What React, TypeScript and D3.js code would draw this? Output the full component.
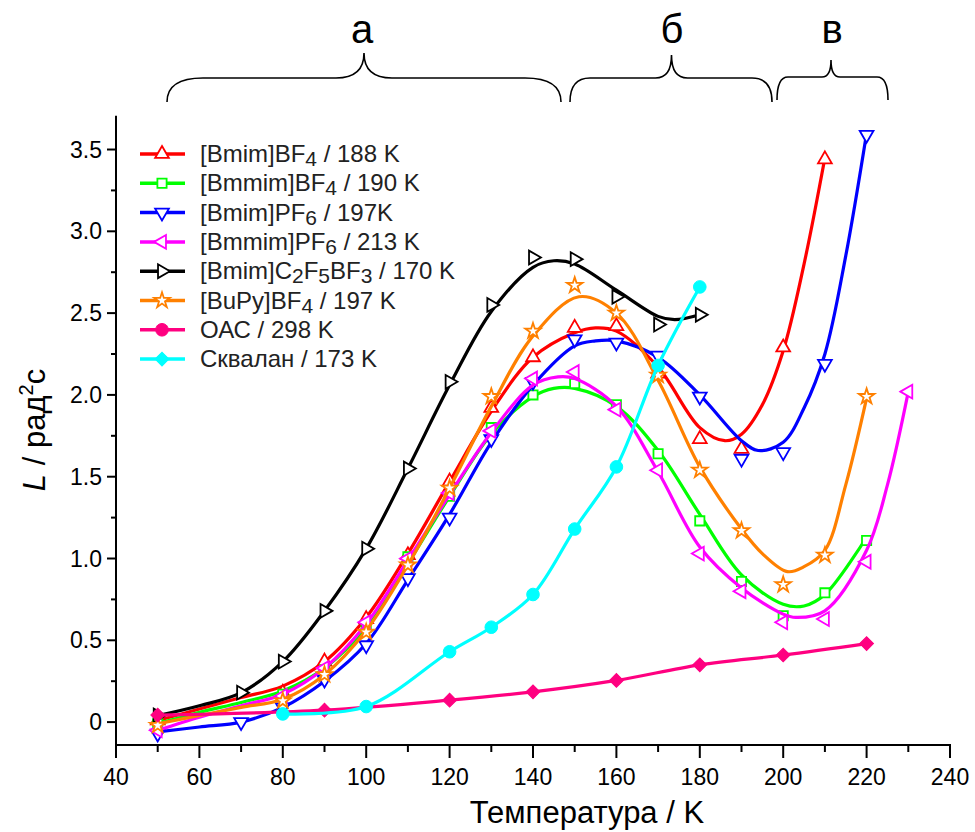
import React from 'react';
import * as d3 from 'd3';

// ---------- data ----------
const xTickValues = [40, 60, 80, 100, 120, 140, 160, 180, 200, 220, 240];
const xMinorValues = [50, 70, 90, 110, 130, 150, 170, 190, 210, 230];
const yTickValues = [0, 0.5, 1.0, 1.5, 2.0, 2.5, 3.0, 3.5];
const yTickLabels = ['0', '0.5', '1.0', '1.5', '2.0', '2.5', '3.0', '3.5'];
const yMinorValues = [0.25, 0.75, 1.25, 1.75, 2.25, 2.75, 3.25];

// [Bmim]BF4 (red)
const redT = [50, 80, 90, 100, 110, 120, 130, 140, 150, 160, 170, 180, 190, 200, 210];
const redL = [0.01, 0.18, 0.37, 0.63, 1.02, 1.47, 1.92, 2.23, 2.41, 2.42, 2.13, 1.73, 1.67, 2.29, 3.44];
const redFitT = [50, 60, 70, 80, 90, 100, 110, 120, 130, 140, 150, 155, 160, 170, 180, 186, 190, 195, 200, 205, 210];
const redFitL = [0.01, 0.08, 0.15, 0.22, 0.37, 0.64, 1.03, 1.47, 1.9, 2.23, 2.38, 2.41, 2.39, 2.17, 1.8, 1.72, 1.76, 1.94, 2.27, 2.8, 3.45];

// [Bmmim]BF4 (green)
const greenT = [50, 80, 90, 100, 110, 120, 130, 140, 150, 160, 170, 180, 190, 200, 210, 220];
const greenL = [-0.01, 0.17, 0.32, 0.58, 1.01, 1.38, 1.8, 2.0, 2.07, 1.94, 1.64, 1.23, 0.86, 0.65, 0.79, 1.11];
const greenFitT = [50, 60, 70, 80, 90, 100, 110, 120, 130, 140, 145, 150, 160, 170, 180, 190, 200, 205, 210, 220];
const greenFitL = [-0.01, 0.06, 0.12, 0.19, 0.33, 0.58, 0.97, 1.38, 1.76, 1.99, 2.04, 2.04, 1.93, 1.66, 1.27, 0.9, 0.72, 0.71, 0.78, 1.13];

// [Bmim]PF6 (blue)
const blueT = [50, 70, 80, 90, 100, 110, 120, 130, 140, 150, 160, 170, 180, 190, 200, 210, 220];
const blueL = [-0.07, 0.0, 0.09, 0.26, 0.47, 0.88, 1.25, 1.73, 2.08, 2.34, 2.32, 2.24, 1.99, 1.61, 1.65, 2.19, 3.59];
const blueFitT = [50, 60, 70, 80, 90, 100, 110, 120, 130, 140, 150, 155, 160, 170, 180, 190, 194, 200, 205, 210, 215, 220];
const blueFitL = [-0.06, -0.03, 0.0, 0.09, 0.25, 0.48, 0.87, 1.27, 1.71, 2.06, 2.3, 2.33, 2.33, 2.23, 2.0, 1.72, 1.66, 1.71, 1.92, 2.25, 2.85, 3.6];

// [Bmmim]PF6 (magenta)
const magT = [50, 80, 90, 100, 110, 120, 130, 140, 150, 160, 170, 180, 190, 200, 210, 220, 230];
const magL = [-0.05, 0.16, 0.33, 0.61, 1.0, 1.4, 1.78, 2.1, 2.14, 1.91, 1.54, 1.03, 0.8, 0.61, 0.63, 0.98, 2.02];
const magFitT = [50, 60, 70, 80, 90, 100, 110, 120, 130, 140, 146, 150, 160, 170, 180, 190, 200, 203, 210, 220, 225, 230];
const magFitL = [-0.05, 0.03, 0.1, 0.17, 0.33, 0.6, 0.99, 1.39, 1.77, 2.06, 2.11, 2.1, 1.93, 1.53, 1.07, 0.82, 0.66, 0.64, 0.68, 1.05, 1.45, 2.02];

// [Bmim]C2F5BF3 (black)
const blackT = [50, 70, 80, 90, 100, 110, 120, 130, 140, 150, 160, 170, 180];
const blackL = [0.04, 0.18, 0.37, 0.68, 1.06, 1.55, 2.08, 2.55, 2.84, 2.83, 2.6, 2.43, 2.49];
const blackFitT = [50, 60, 70, 80, 90, 100, 110, 120, 130, 140, 145, 150, 160, 170, 174, 180];
const blackFitL = [0.04, 0.1, 0.18, 0.37, 0.68, 1.06, 1.55, 2.06, 2.51, 2.78, 2.82, 2.8, 2.64, 2.48, 2.46, 2.49];

// [BuPy]BF4 (orange)
const orangeT = [50, 80, 90, 100, 110, 120, 130, 140, 150, 160, 170, 180, 190, 200, 210, 220];
const orangeL = [-0.02, 0.13, 0.29, 0.55, 0.96, 1.43, 1.99, 2.39, 2.67, 2.5, 2.12, 1.54, 1.17, 0.84, 1.02, 1.99];
const orangeFitT = [50, 60, 70, 80, 90, 100, 110, 120, 130, 140, 151, 160, 170, 180, 190, 195, 201, 205, 210, 215, 220];
const orangeFitL = [-0.01, 0.04, 0.09, 0.14, 0.29, 0.56, 0.96, 1.43, 1.93, 2.36, 2.6, 2.5, 2.09, 1.56, 1.18, 1.03, 0.92, 0.95, 1.05, 1.45, 1.98];

// ОАС (pink)
const oacT = [50, 90, 120, 140, 160, 180, 200, 220];
const oacL = [0.043, 0.073, 0.134, 0.185, 0.255, 0.35, 0.41, 0.48];

// Сквалан (cyan)
const sqT = [80, 100, 120, 130, 140, 150, 160, 170, 180];
const sqL = [0.05, 0.095, 0.43, 0.58, 0.78, 1.18, 1.56, 2.18, 2.66];

// ---------- config ----------
type Sym = 'up' | 'down' | 'left' | 'right' | 'square' | 'star' | 'diamond' | 'circle';
interface Series {
  name: React.ReactNode;
  color: string;
  T: number[];
  L: number[];
  fitT: number[];
  fitL: number[];
  sym: Sym;
  legendSym: Sym;
  filled: boolean;
}

const sub = (s: string) => (
  <tspan fontSize={21} dy={4}>{s}</tspan>
);
const back = (s: string) => <tspan dy={-4}>{s}</tspan>;

const series: Series[] = [
  { name: <>[Bmim]BF{sub('4')}{back(' / 188 K')}</>, color: '#FF0000', T: redT, L: redL, fitT: redFitT, fitL: redFitL, sym: 'up', legendSym: 'up', filled: false },
  { name: <>[Bmmim]BF{sub('4')}{back(' / 190 K')}</>, color: '#00FF00', T: greenT, L: greenL, fitT: greenFitT, fitL: greenFitL, sym: 'square', legendSym: 'square', filled: false },
  { name: <>[Bmim]PF{sub('6')}{back(' / 197K')}</>, color: '#0000FF', T: blueT, L: blueL, fitT: blueFitT, fitL: blueFitL, sym: 'down', legendSym: 'down', filled: false },
  { name: <>[Bmmim]PF{sub('6')}{back(' / 213 K')}</>, color: '#FF00FF', T: magT, L: magL, fitT: magFitT, fitL: magFitL, sym: 'left', legendSym: 'left', filled: false },
  { name: <>[Bmim]C{sub('2')}{back('F')}{sub('5')}{back('BF')}{sub('3')}{back(' / 170 K')}</>, color: '#000000', T: blackT, L: blackL, fitT: blackFitT, fitL: blackFitL, sym: 'right', legendSym: 'right', filled: false },
  { name: <>[BuPy]BF{sub('4')}{back(' / 197 K')}</>, color: '#FF8000', T: orangeT, L: orangeL, fitT: orangeFitT, fitL: orangeFitL, sym: 'star', legendSym: 'star', filled: false },
  { name: <>ОАС / 298 K</>, color: '#FF0080', T: oacT, L: oacL, fitT: oacT, fitL: oacL, sym: 'diamond', legendSym: 'circle', filled: true },
  { name: <>Сквалан / 173 K</>, color: '#00FFFF', T: sqT, L: sqL, fitT: sqT, fitL: sqL, sym: 'circle', legendSym: 'diamond', filled: true },
];

// ---------- scales ----------
const x = d3.scaleLinear().domain([40, 240]).range([116, 950]);
const y = d3.scaleLinear().domain([-0.14, 3.7]).range([745, 116.8]);

const FONT = '"Liberation Sans", Arial, Helvetica, sans-serif';

function symbolPath(sym: Sym): { d: string; rot: number } {
  const tri = d3.symbol().type(d3.symbolTriangle).size(82)()!;
  switch (sym) {
    case 'up': return { d: tri, rot: 0 };
    case 'down': return { d: tri, rot: 180 };
    case 'left': return { d: tri, rot: -90 };
    case 'right': return { d: tri, rot: 90 };
    case 'square': return { d: d3.symbol().type(d3.symbolSquare).size(85)()!, rot: 0 };
    case 'star': return { d: d3.symbol().type(d3.symbolStar).size(75)()!, rot: 0 };
    case 'diamond': return { d: d3.symbol().type(d3.symbolSquare).size(95)()!, rot: 45 };
    case 'circle': return { d: d3.symbol().type(d3.symbolCircle).size(125)()!, rot: 0 };
  }
}

function Marker({ cx, cy, sym, color, filled }: { cx: number; cy: number; sym: Sym; color: string; filled: boolean }) {
  const { d, rot } = symbolPath(sym);
  return (
    <path
      d={d}
      transform={`translate(${cx},${cy}) rotate(${rot})`}
      fill={filled ? color : '#fff'}
      stroke={color}
      strokeWidth={filled ? 1 : 1.8}
      strokeLinejoin="miter"
    />
  );
}

function bracePath(x0: number, xc: number, x1: number, yb: number, yf: number, yt: number, r: number, r2: number) {
  return `M${x0},${yb} Q${x0},${yf} ${x0 + r},${yf} L${xc - r2},${yf} Q${xc},${yf} ${xc},${yt} Q${xc},${yf} ${xc + r2},${yf} L${x1 - r},${yf} Q${x1},${yf} ${x1},${yb}`;
}

export default function App() {
  const line = d3
    .line<[number, number]>()
    .x((d) => x(d[0]))
    .y((d) => y(d[1]))
    .curve(d3.curveCatmullRom.alpha(0.5));

  const x0 = x(40), yBase = y.range()[0];
  const legendY0 = 154, legendDy = 29.3;

  return (
    <svg width={975} height={832} viewBox="0 0 975 832" style={{ display: 'block', position: 'absolute', left: 0, top: 0 }} fontFamily={FONT}>
      <rect x={0} y={0} width={975} height={832} fill="#fff" />

      {/* braces and letters */}
      <g fill="none" stroke="#000" strokeWidth={1.6}>
        <path d={bracePath(167, 364, 561, 102, 78, 53, 36, 28)} />
        <path d={bracePath(570, 671.5, 772, 102, 78, 55, 20, 16)} />
        <path d={bracePath(777, 831, 888, 100, 77, 60, 11, 9)} />
      </g>
      <g fontSize={40} textAnchor="middle" fill="#000">
        <text x={362} y={43}>а</text>
        <text x={672} y={43}>б</text>
        <text x={832} y={43}>в</text>
      </g>

      {/* axes */}
      <g stroke="#000" strokeWidth={2}>
        <line x1={x0} y1={y.range()[1] - 1} x2={x0} y2={yBase + 1} />
        <line x1={x0 - 1} y1={yBase} x2={x(240) + 1} y2={yBase} />
        {yTickValues.map((v) => (
          <line key={'yt' + v} x1={x0 - 9} x2={x0} y1={y(v)} y2={y(v)} />
        ))}
        {yMinorValues.map((v) => (
          <line key={'ym' + v} x1={x0 - 5} x2={x0} y1={y(v)} y2={y(v)} />
        ))}
        {xTickValues.map((v) => (
          <line key={'xt' + v} x1={x(v)} x2={x(v)} y1={yBase} y2={yBase + 13} />
        ))}
        {xMinorValues.map((v) => (
          <line key={'xm' + v} x1={x(v)} x2={x(v)} y1={yBase} y2={yBase + 7} />
        ))}
      </g>
      <g fontSize={23} fill="#000">
        {yTickValues.map((v, i) => (
          <text key={'yl' + v} x={x0 - 14} y={y(v) + 8} textAnchor="end">{yTickLabels[i]}</text>
        ))}
        {xTickValues.map((v) => (
          <text key={'xl' + v} x={x(v)} y={yBase + 40} textAnchor="middle">{v}</text>
        ))}
      </g>
      <text x={587} y={823} fontSize={31} textAnchor="middle" fill="#000">Температура / K</text>
      <text transform="translate(45,430) rotate(-90)" fontSize={31} textAnchor="middle" fill="#000">
        <tspan fontStyle="italic">L</tspan> / рад<tspan fontSize={20} dy={-12}>2</tspan><tspan dy={12}>с</tspan>
      </text>

      {/* series */}
      {series.map((s, i) => {
        const pts = s.fitT.map((t, j) => [t, s.fitL[j]] as [number, number]);
        return (
          <g key={'s' + i}>
            <path d={line(pts) || ''} fill="none" stroke={s.color} strokeWidth={3.2} strokeLinejoin="round" strokeLinecap="round" />
            {s.T.map((t, j) => (
              <Marker key={j} cx={x(t)} cy={y(s.L[j])} sym={s.sym} color={s.color} filled={s.filled} />
            ))}
          </g>
        );
      })}

      {/* legend */}
      <g>
        {series.map((s, i) => {
          const ly = legendY0 + i * legendDy;
          return (
            <g key={'lg' + i}>
              <line x1={140} x2={185} y1={ly} y2={ly} stroke={s.color} strokeWidth={3.5} />
              <Marker cx={162} cy={ly} sym={s.legendSym} color={s.color} filled={s.filled} />
              <text x={200} y={ly + 8} fontSize={24} fill="#222">{s.name}</text>
            </g>
          );
        })}
      </g>
    </svg>
  );
}
